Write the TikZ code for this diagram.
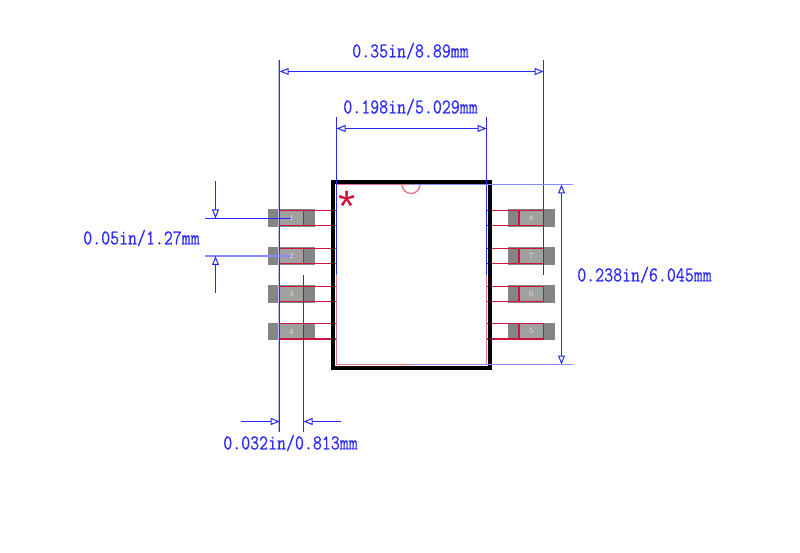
\documentclass[tikz,border=0pt]{standalone}
\usepackage{fontspec}
\setmonofont[FakeBold=0.25]{Latin Modern Mono}
\newfontfamily\starfont{Liberation Sans}
\usetikzlibrary{arrows.meta}
\definecolor{dimblue}{RGB}{40,40,255}
\definecolor{padred}{RGB}{205,20,60}
\definecolor{padgray}{RGB}{133,133,133}
\definecolor{coregray}{RGB}{160,160,160}
\tikzset{
  dimline/.style={draw=dimblue,line width=1pt},
  extline/.style={draw=dimblue,line width=1pt},
  faintline/.style={draw=dimblue!55,line width=1.2pt},
  dimarrow/.style={dimline,-{Triangle[open,length=9pt,width=7pt,line width=1pt]}},
  dimboth/.style={dimline,{Triangle[open,length=9pt,width=7pt,line width=1pt]}-{Triangle[open,length=9pt,width=7pt,line width=1pt]}},
  dimtext/.style={text=dimblue,inner sep=0pt,font=\fontsize{17.4}{17.4}\ttfamily},
  padbox/.style={fill=padgray,draw=none,minimum width=47pt,minimum height=17.6pt,inner sep=0pt},
  corebox/.style={fill=coregray,draw=none,minimum width=24pt,minimum height=15pt,inner sep=0pt,text=white!85!gray,font=\fontsize{8}{8}\selectfont},
  pinline/.style={draw=padred,line width=1.05pt},
  bodyline/.style={draw=padred!60,line width=1.3pt},
  outline/.style={draw=black,line width=4.2pt,line join=miter},
}
\newcommand{\tallt}[1]{\scalebox{1}[1.22]{#1}}
\begin{document}
\begin{tikzpicture}[x=1pt,y=-1pt]
\useasboundingbox (0,0) rectangle (800,553);
\coordinate (bodyL) at (336.5,184.5);
\coordinate (bodyR) at (486.5,364.5);
% pads
\foreach \n/\y in {1/217.8,2/255.8,3/293.8,4/331.3}{
  \node[padbox] (padL\n) at (291.2,\y) {};
  \node[corebox] (coreL\n) at (291.2,\y) {\n};
}
\foreach \n/\y in {8/217.8,7/255.8,6/293.8,5/331.3}{
  \node[padbox] (padR\n) at (531.2,\y) {};
  \node[corebox] (coreR\n) at (531.2,\y) {\n};
}
% pin outlines
\foreach \n in {1,2,3,4}{
  \draw[pinline] (coreL\n.north west) rectangle (coreL\n.south east);
  \draw[pinline] (coreL\n.north east) -- (coreL\n.north east -| bodyL) -- (coreL\n.south east -| bodyL) -- (coreL\n.south east);
}
\foreach \n in {8,7,6,5}{
  \draw[pinline] (coreR\n.north west) rectangle (coreR\n.south east);
  \draw[pinline] (coreR\n.north west) -- (coreR\n.north west -| bodyR) -- (coreR\n.south west -| bodyR) -- (coreR\n.south west);
}
% body
\draw[bodyline] (bodyL) rectangle (bodyR);
\draw[bodyline] (402,184.5) arc[start angle=180,end angle=360,x radius=9pt,y radius=9pt];
\draw[outline] (333,182) rectangle (490,367.8);
\node[inner sep=0pt,text=padred,font=\fontsize{44}{44}\starfont] (star) at (347.5,206.5) {*};
% reference points
\coordinate (wA) at (279.7,71.5);
\coordinate (wB) at (543.7,71.5);
\coordinate (wAt) at (279.7,60);
\coordinate (wAb) at (279.7,432);
\coordinate (wAp) at (278.5,60);
\coordinate (wAq) at (278.5,432);
\coordinate (wBt) at (543.7,60);
\coordinate (wBb) at (543.7,275);
\coordinate (bA) at (336.5,128.5);
\coordinate (bB) at (486.5,128.5);
\coordinate (bAt) at (336.5,117);
\coordinate (bAb) at (336.5,275);
\coordinate (bBt) at (486.5,117);
\coordinate (bBb) at (486.5,275);
\coordinate (hT) at (411,184.5);
\coordinate (hTe) at (573,184.5);
\coordinate (hB) at (411,364.5);
\coordinate (hBe) at (573,364.5);
\coordinate (hAt) at (561.5,184.5);
\coordinate (hAb) at (561.5,364.5);
\coordinate (pA) at (205,218.5);
\coordinate (pAe) at (291,218.5);
\coordinate (pB) at (205,256);
\coordinate (pBe) at (291,256);
\coordinate (pAs) at (215.5,181);
\coordinate (pAt) at (215.5,218.5);
\coordinate (pBs) at (215.5,293);
\coordinate (pBt) at (215.5,256);
\coordinate (lT) at (303.5,275);
\coordinate (lB) at (303.5,432);
\coordinate (lAs) at (241,421.5);
\coordinate (lAt) at (279.7,421.5);
\coordinate (lBs) at (341,421.5);
\coordinate (lBt) at (303.5,421.5);
% dimension lines
\draw[draw=dimblue!30,line width=1pt] (wAp) -- (wAq);
\draw[extline] (wAt) -- (wAb);
\draw[extline] (wBt) -- (wBb);
\draw[extline] (bAt) -- (bAb);
\draw[extline] (bBt) -- (bBb);
\draw[faintline] (hT) -- (hTe);
\draw[faintline] (hB) -- (hBe);
\draw[extline] (pA) -- (pAe);
\draw[faintline] (pB) -- (pBe);
\draw[extline] (lT) -- (lB);
\draw[dimboth] (wA) -- (wB);
\draw[dimboth] (bA) -- (bB);
\draw[dimboth] (hAt) -- (hAb);
\draw[dimarrow] (pAs) -- (pAt);
\draw[dimarrow] (pBs) -- (pBt);
\draw[dimarrow] (lAs) -- (lAt);
\draw[dimarrow] (lBs) -- (lBt);
% labels
\node[dimtext] (t1) at (410.5,51) {\tallt{0.35in/8.89mm}};
\node[dimtext] (t2) at (410.5,107) {\tallt{0.198in/5.029mm}};
\node[dimtext] (t3) at (141.5,238) {\tallt{0.05in/1.27mm}};
\node[dimtext] (t4) at (644.5,275) {\tallt{0.238in/6.045mm}};
\node[dimtext] (t5) at (290.5,443) {\tallt{0.032in/0.813mm}};
\end{tikzpicture}
\end{document}
